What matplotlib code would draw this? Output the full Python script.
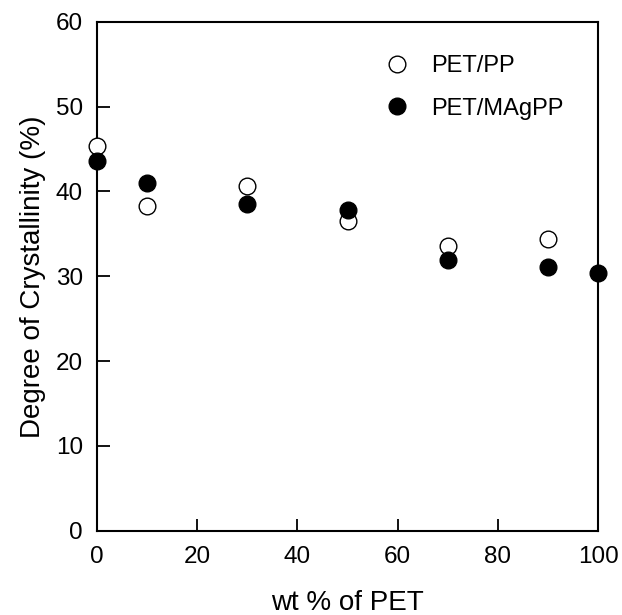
import matplotlib
matplotlib.use("Agg")
import matplotlib.pyplot as plt

# wt % PET and degree of crystallinity (%)
pet_pp_x = [0, 10, 30, 50, 70, 90]
pet_pp_y = [45.3, 38.3, 40.6, 36.5, 33.6, 34.4]

pet_magpp_x = [0, 10, 30, 50, 70, 90, 100]
pet_magpp_y = [43.6, 41.0, 38.5, 37.8, 31.9, 31.1, 30.4]

x_ticks = [0, 20, 40, 60, 80, 100]
y_ticks = [0, 10, 20, 30, 40, 50, 60]

plt.rcParams['font.family'] = ['Liberation Sans', 'DejaVu Sans']

fig = plt.figure(figsize=(6.22, 6.15), dpi=100)
ax = fig.add_axes([0.1555, 0.137, 0.8064, 0.8276])

ax.plot(pet_pp_x, pet_pp_y, 'o', ls='none', ms=12, mfc='white', mec='black',
        mew=1.0, label='PET/PP', clip_on=False, zorder=4)
ax.plot(pet_magpp_x, pet_magpp_y, 'o', ls='none', ms=12, mfc='black', mec='black',
        mew=1.0, label='PET/MAgPP', clip_on=False, zorder=5)

ax.set_xlim(0, 100)
ax.set_ylim(0, 60)
ax.set_xticks(x_ticks)
ax.set_yticks(y_ticks)
ax.tick_params(direction='in', length=9, width=1.3, labelsize=17.5,
               top=False, right=False)
ax.tick_params(axis='x', pad=11)
ax.tick_params(axis='y', pad=10)
for s in ax.spines.values():
    s.set_linewidth(1.5)

ax.set_xlabel('wt % of PET', fontsize=20, labelpad=16)
ax.set_ylabel('Degree of Crystallinity (%)', fontsize=20, labelpad=7)

ax.legend(loc='upper left', bbox_to_anchor=(0.575, 0.935), frameon=False,
          fontsize=17, handlelength=1.0, handletextpad=0.93,
          labelspacing=0.88, borderpad=0, borderaxespad=0)

fig.savefig('out.png', dpi=100)
